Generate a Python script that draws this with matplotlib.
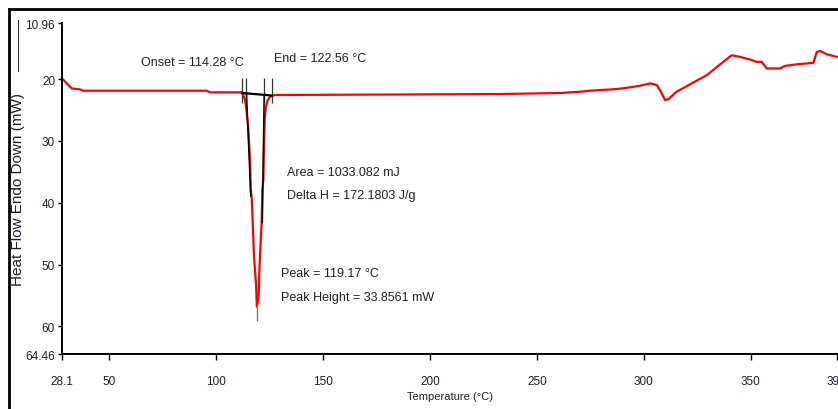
#!/usr/bin/env python3
"""DSC thermogram: heat flow vs temperature with melting peak annotations."""

import matplotlib
matplotlib.use("Agg")
import matplotlib.pyplot as plt
from matplotlib.lines import Line2D

# DSC curve (temperature in degC, heat flow in mW)
temp = [28.1, 30.3, 32.6, 36.5, 38.1, 95.7, 97.3, 112.0,
        112.2, 112.8, 113.6, 114.1, 115.2, 116.0, 116.3, 116.8, 117.2, 117.8,
        118.8, 119.0, 119.17, 120.0, 120.3, 121.0, 121.4, 121.7, 122.2, 122.5,
        122.8, 123.4, 124.2, 125.3, 127.6,
        186.0, 232.8, 260.8, 270.2, 274.8, 287.3, 293.5, 298.2, 302.9, 306.0,
        307.5, 309.9, 311.4, 315.3, 321.8, 329.4, 337.1, 341.0, 344.9, 349.6,
        352.7, 355.1, 357.4, 363.6, 366.0, 372.0, 379.2, 380.8, 382.3, 385.4,
        390.1]
heat_flow = [19.89, 20.69, 21.50, 21.66, 21.88, 21.88, 22.14, 22.14,
             22.25, 22.57, 23.38, 24.45, 28.20, 33.50, 37.85, 39.45, 43.15, 48.57,
             53.39, 55.6, 56.8, 55.0, 51.19, 45.88, 43.15, 37.85, 36.24, 30.88,
             26.59, 24.45, 23.38, 22.85, 22.57,
             22.49, 22.41, 22.25, 22.04, 21.88, 21.61, 21.33, 21.08, 20.69, 20.96,
             21.77, 23.38, 23.26, 22.04, 20.80, 19.36, 17.22, 16.14, 16.41, 16.83,
             17.22, 17.22, 18.28, 18.28, 17.86, 17.59, 17.38, 15.61, 15.45, 15.98,
             16.41]

# Peak analysis construction
onset_t, end_t, peak_t = 114.28, 122.56, 119.17
marker_t = [112.2, onset_t, end_t, 126.1]
marker_y = (19.8, 23.8)
baseline_t = [112.2, 126.1]
baseline_y = [22.25, 22.65]
left_tangent = ([onset_t, 116.3], [22.3, 38.9])
right_tangent = ([end_t, 121.7], [22.6, 43.2])
peak_drop = (56.3, 59.1)

x_ticks = [28.1, 50, 100, 150, 200, 250, 300, 350, 390]
x_labels = ["28.1", "50", "100", "150", "200", "250", "300", "350", "390"]
y_ticks = [10.96, 20, 30, 40, 50, 60, 64.46]
y_labels = ["10.96", "20", "30", "40", "50", "60", "64.46"]

annotations = [
    (65.0, 17.27, "Onset = 114.28 °C"),
    (127.2, 16.62, "End = 122.56 °C"),
    (133.2, 34.95, "Area = 1033.082 mJ"),
    (133.2, 38.81, "Delta H = 172.1803 J/g"),
    (130.4, 51.35, "Peak = 119.17 °C"),
    (130.4, 55.20, "Peak Height = 33.8561 mW"),
]

FONT = ["Liberation Sans", "DejaVu Sans"]
TEXT_COLOR = "#1e1e30"

fig = plt.figure(figsize=(8.38, 4.10), dpi=100)
ax = fig.add_axes([0.074, 0.134, 0.926, 0.807])

ax.plot(temp, heat_flow, color="#ff0000", lw=1.6, zorder=2)

ax.vlines(marker_t, *marker_y, color="#333333", lw=0.9, zorder=3)
ax.plot(baseline_t, baseline_y, color="black", lw=1.6, zorder=3)
ax.plot(*left_tangent, color="black", lw=1.1, zorder=3)
ax.plot(*right_tangent, color="black", lw=1.1, zorder=3)
ax.vlines(peak_t, *peak_drop, color="#777777", lw=1.0, zorder=3)

for x, y, s in annotations:
    ax.text(x, y, s, ha="left", va="center", fontsize=9,
            family=FONT, color=TEXT_COLOR)

ax.set_xlim(28.1, 390.7)
ax.set_ylim(64.46, 10.96)
ax.set_xticks(x_ticks)
ax.set_xticklabels(x_labels, family=FONT, fontsize=8.5, color=TEXT_COLOR)
ax.set_yticks(y_ticks)
ax.set_yticklabels(y_labels, family=FONT, fontsize=8.5, color=TEXT_COLOR)
ax.tick_params(axis="x", direction="out", length=4, width=1, pad=11)
ax.tick_params(axis="y", direction="out", length=3, width=1, pad=2)

for side in ("top", "right"):
    ax.spines[side].set_visible(False)
for side in ("left", "bottom"):
    ax.spines[side].set_linewidth(1.4)

ax.set_xlabel("Temperature (°C)", family=FONT, fontsize=8,
              color=TEXT_COLOR, labelpad=3)
fig.text(18 / 838, 0.537, "Heat Flow Endo Down (mW)", rotation=90,
         ha="center", va="center", fontsize=11, family=FONT,
         color=TEXT_COLOR)

# outer frame of the screenshot and the short legend stroke
fig.add_artist(Line2D([0.0113, 0.0113], [0.0, 0.9756], color="black", lw=2))
fig.add_artist(Line2D([0.0113, 1.0], [0.9756, 0.9756], color="black", lw=2))
fig.add_artist(Line2D([0.0218, 0.0218], [0.8244, 0.9488], color="#333333", lw=0.8))

fig.savefig("out.png", dpi=100)
